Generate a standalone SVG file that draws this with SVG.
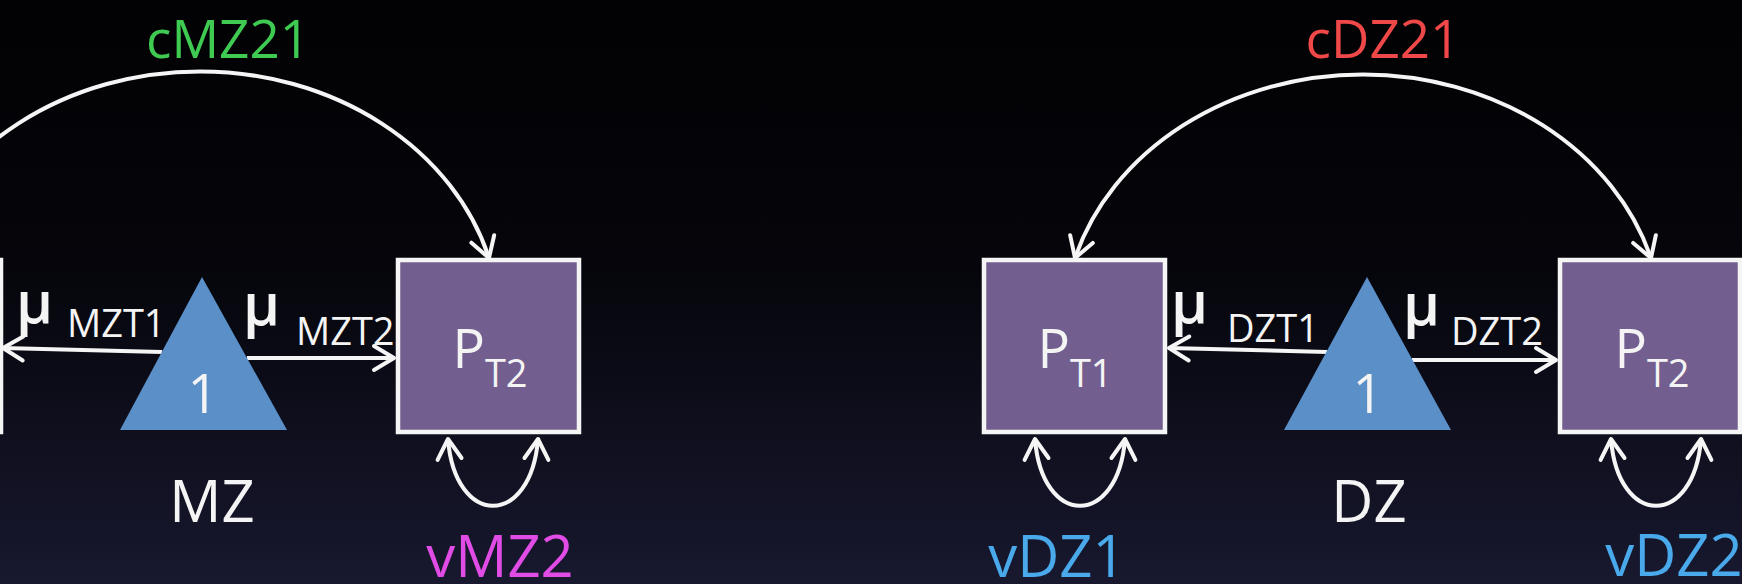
<svg xmlns="http://www.w3.org/2000/svg" width="1742" height="584" viewBox="0 0 1742 584">
  <defs>
    <linearGradient id="bg" x1="0" y1="0" x2="0" y2="1">
      <stop offset="0" stop-color="#020204"/>
      <stop offset="0.45" stop-color="#05050b"/>
      <stop offset="1" stop-color="#18182f"/>
    </linearGradient>
    <!-- open V arrowhead used by every connector -->
    <marker id="head" markerUnits="userSpaceOnUse" viewBox="-26 -16 30 32" refX="0" refY="0" markerWidth="30" markerHeight="32" orient="auto-start-reverse" overflow="visible">
      <path d="M-20,-12 L0,0 L-20,12" fill="none" stroke="#f5f5f5" stroke-width="4" stroke-linejoin="round" stroke-linecap="round"/>
    </marker>
  </defs>
  <style>
    .box { fill: #735f8f; stroke: #f5f5f5; stroke-width: 4.5; }
    .tri { fill: #5b8fc8; }
    .edge { fill: none; stroke: #f5f5f5; stroke-width: 4; }
    .arrow { marker-end: url(#head); }
    .both { marker-start: url(#head); marker-end: url(#head); }
    text { font-family: "Open Sans", "Liberation Sans", sans-serif; fill: #f4f4f4; }
    .big { font-size: 58px; text-anchor: middle; }
    .cov { font-size: 53px; text-anchor: middle; }
    .var { font-size: 58px; text-anchor: middle; }
    .mu { font-size: 58px; font-weight: 600; }
    .sub { font-size: 38px; }
    .pv { text-anchor: middle; }
    .pv .p { font-size: 54px; }
    .pv .s { font-size: 38px; }
    .one { font-size: 54px; text-anchor: middle; }
  </style>

  <rect width="1742" height="584" fill="url(#bg)"/>

  <!-- connectors and their labels -->
  <g id="connectors">
    <!-- MZ twin covariance -->
    <path class="edge arrow" d="M -89,258 A 300 255 0 0 1 489,258"/>
    <!-- DZ twin covariance -->
    <path class="edge both" d="M 1075,258 A 300 255 0 0 1 1651,258"/>
    <!-- MZ means -->
    <path class="edge arrow" d="M 162,352 L 3,348"/>
    <path class="edge arrow" d="M 247,358 L 394,358"/>
    <!-- DZ means -->
    <path class="edge arrow" d="M 1327,352 L 1169,348"/>
    <path class="edge arrow" d="M 1412,360 L 1556,360"/>
    <!-- variances -->
    <path class="edge both" d="M 448,439 C 455,528 531,528 538,439"/>
    <path class="edge both" d="M 1035,439 C 1042,528 1118,528 1125,439"/>
    <path class="edge both" d="M 1611,439 C 1618,528 1694,528 1701,439"/>

    <text class="cov" x="228" y="58" style="fill:#3fcb52">cMZ21</text>
    <text class="cov" x="1383" y="58" style="fill:#f04848">cDZ21</text>

    <text class="mu" x="16" y="323">μ</text>
    <text class="sub" x="67" y="337">MZT1</text>
    <text class="mu" x="243" y="325">μ</text>
    <text class="sub" x="296" y="345">MZT2</text>

    <text class="mu" x="1171" y="323">μ</text>
    <text class="sub" x="1227" y="342">DZT1</text>
    <text class="mu" x="1403" y="325">μ</text>
    <text class="sub" x="1451" y="345">DZT2</text>

    <text class="var" x="500" y="577" style="fill:#e24ce6">vMZ2</text>
    <text class="var" x="1057" y="577" style="fill:#4aa9ea">vDZ1</text>
    <text class="var" x="1674" y="576" style="fill:#4aa9ea">vDZ2</text>
  </g>

  <!-- MZ pair -->
  <g id="mz-pt1">
    <rect class="box" x="-180" y="260" width="181" height="172"/>
  </g>
  <g id="mz-mean">
    <polygon class="tri" points="202,277 120,430 287,430"/>
    <text class="one" x="203" y="413">1</text>
    <text class="big" x="212" y="522">MZ</text>
  </g>
  <g id="mz-pt2">
    <rect class="box" x="398" y="260" width="181" height="172"/>
    <text class="pv" x="490" y="368"><tspan class="p">P</tspan><tspan class="s" dy="19">T2</tspan></text>
  </g>

  <!-- DZ pair -->
  <g id="dz-pt1">
    <rect class="box" x="984" y="260" width="181" height="172"/>
    <text class="pv" x="1075" y="368"><tspan class="p">P</tspan><tspan class="s" dy="19">T1</tspan></text>
  </g>
  <g id="dz-mean">
    <polygon class="tri" points="1367,277 1284,430 1451,430"/>
    <text class="one" x="1368" y="413">1</text>
    <text class="big" x="1369" y="522">DZ</text>
  </g>
  <g id="dz-pt2">
    <rect class="box" x="1560" y="260" width="180" height="172"/>
    <text class="pv" x="1652" y="368"><tspan class="p">P</tspan><tspan class="s" dy="19">T2</tspan></text>
  </g>
</svg>
